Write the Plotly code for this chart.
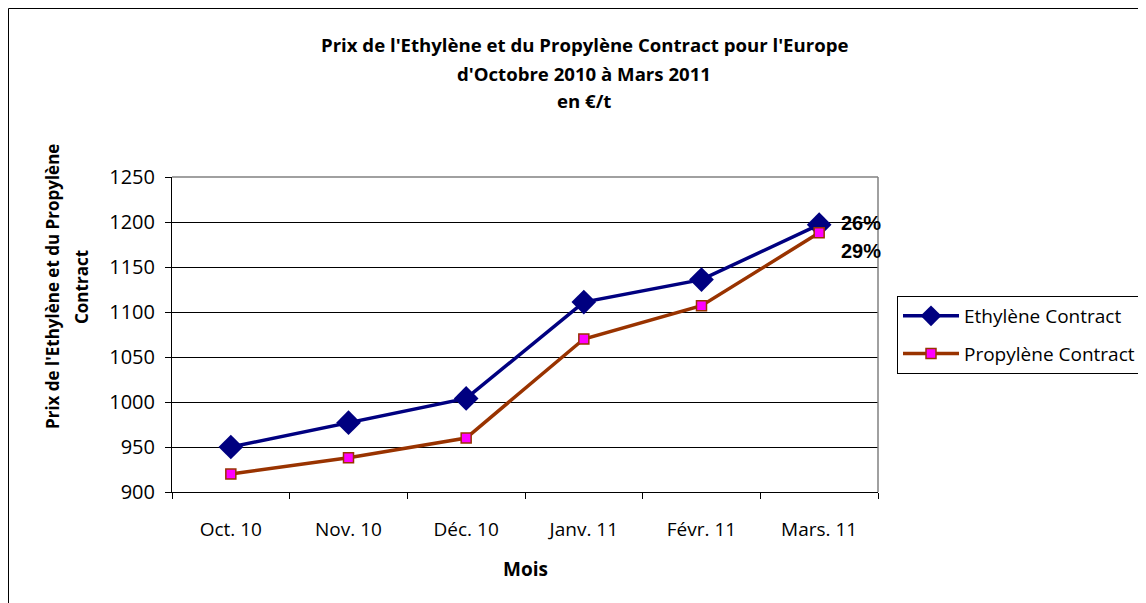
import plotly.graph_objects as go

months = ["Oct. 10", "Nov. 10", "Déc. 10", "Janv. 11", "Févr. 11", "Mars. 11"]
ethylene = [950, 977, 1004, 1111, 1136, 1197]
propylene = [920, 938, 960, 1070, 1107, 1188]
pct_labels = ["26%", "29%"]
yticks = [900, 950, 1000, 1050, 1100, 1150, 1200, 1250]
title_lines = ["Prix de l'Ethylène et du Propylène Contract pour l'Europe",
               "d'Octobre 2010 à Mars 2011", "en €/t"]
ytitle_lines = ["Prix de l'Ethylène et du Propylène", "Contract"]
xtitle = "Mois"

# figure geometry (page is offset by 8px body margin)
W, H = 1138, 595
L, R, T, B = 164, 268, 169, 111
PW, PH = W - L - R, H - T - B


def px(page_x):
    return (page_x - 8 - L) / PW


def py(page_y):
    return (H - B - (page_y - 8)) / PH


fig = go.Figure()
fig.add_trace(go.Scatter(
    x=months, y=ethylene, name="Ethylène Contract", mode="lines+markers",
    legendgroup="a",
    line=dict(color="#000080", width=3.5),
    marker=dict(symbol="diamond", size=19, color="#000080"),
))
fig.add_trace(go.Scatter(
    x=months, y=propylene, name="Propylène Contract", mode="lines+markers",
    legendgroup="b",
    line=dict(color="#993300", width=3.5),
    marker=dict(symbol="square", size=10, color="#FF00FF", line=dict(color="#993300", width=1.5)),
))

pct_font = dict(family="Liberation Sans", size=20, color="black")
fig.add_annotation(x=months[-1], y=ethylene[-1], text="<b>%s</b>" % pct_labels[0], showarrow=False,
                   xanchor="left", yanchor="middle", xshift=20, yshift=2, font=pct_font)
fig.add_annotation(x=months[-1], y=propylene[-1], text="<b>%s</b>" % pct_labels[1], showarrow=False,
                   xanchor="left", yanchor="middle", xshift=20, yshift=-18, font=pct_font)

# title lines
for line, yy in zip(title_lines, [45, 73, 101]):
    fig.add_annotation(xref="paper", yref="paper", x=px(584), y=py(yy), text="<b>%s</b>" % line,
                       showarrow=False, xanchor="center", yanchor="middle",
                       font=dict(family="Open Sans", size=18.6, color="black"))

# y-axis title lines
for line, xx in zip(ytitle_lines, [52, 81]):
    fig.add_annotation(xref="paper", yref="paper", x=px(xx), y=py(287), text="<b>%s</b>" % line,
                       showarrow=False, xanchor="center", yanchor="middle", textangle=-90,
                       font=dict(family="Open Sans", size=17, color="black"))

# x-axis title
fig.add_annotation(xref="paper", yref="paper", x=px(525), y=py(569), text="<b>%s</b>" % xtitle,
                   showarrow=False, xanchor="center", yanchor="middle",
                   font=dict(family="Open Sans", size=19, color="black"))

# outer chart border
fig.add_shape(type="rect", xref="paper", yref="paper", x0=px(8.5), x1=1.6, y0=-0.6, y1=py(8.5),
              line=dict(color="black", width=1), layer="below")
# grey top/right frame of plot area
fig.add_shape(type="line", xref="paper", yref="paper", x0=0, x1=1, y0=1, y1=1,
              line=dict(color="#808080", width=1.5))
fig.add_shape(type="line", xref="paper", yref="paper", x0=1, x1=1, y0=0, y1=1,
              line=dict(color="#808080", width=1.5))

fig.update_layout(
    width=W, height=H,
    margin=dict(l=L, r=R, t=T, b=B, autoexpand=False),
    paper_bgcolor="white", plot_bgcolor="white",
    font=dict(family="Open Sans", color="black"),
    showlegend=True,
    legend=dict(
        x=889 / W, xref="container", y=1 - 288 / H, yref="container", xanchor="left", yanchor="top",
        bordercolor="black", borderwidth=1, bgcolor="white",
        font=dict(family="Open Sans", size=19, color="black"),
        tracegroupgap=10, itemwidth=56,
    ),
    xaxis=dict(
        type="category", range=[-0.5, 5.5],
        showline=True, linecolor="black", linewidth=1,
        ticks="outside", ticklen=6, tickcolor="black", tickson="boundaries",
        showgrid=False, mirror=False,
        tickfont=dict(family="Open Sans", size=19, color="black"),
        ticklabelstandoff=20,
    ),
    yaxis=dict(
        range=[900, 1250], tickvals=yticks,
        showline=True, linecolor="black", linewidth=1,
        ticks="outside", ticklen=6, tickcolor="black",
        showgrid=True, gridcolor="black", gridwidth=1,
        zeroline=False,
        tickfont=dict(family="Open Sans", size=20, color="black"),
        ticklabelstandoff=6,
    ),
)

fig.write_html("out.html")
